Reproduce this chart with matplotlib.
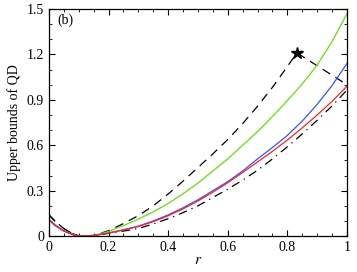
import matplotlib
matplotlib.use("Agg")
import matplotlib.pyplot as plt
from matplotlib.ticker import MultipleLocator

plt.rcParams['font.family'] = ['Liberation Serif', 'DejaVu Serif']
plt.rcParams['mathtext.fontset'] = 'stix'

# values
r = [0, 0.02, 0.05, 0.08, 0.10, 0.12, 0.15, 0.20, 0.25, 0.30, 0.35, 0.40, 0.45,
     0.50, 0.55, 0.60, 0.65, 0.70, 0.75, 0.80, 0.85, 0.90, 0.95, 1.0]
green = [0.11, 0.075, 0.035, 0.01, 0.002, 0.0, 0.004, 0.03, 0.07, 0.112, 0.16, 0.215, 0.28,
         0.35, 0.43, 0.51, 0.60, 0.69, 0.79, 0.895, 1.005, 1.13, 1.285, 1.47]
blue = [0.11, 0.075, 0.035, 0.01, 0.002, 0.0, 0.003, 0.02, 0.042, 0.066, 0.10, 0.14, 0.187,
        0.24, 0.30, 0.36, 0.43, 0.51, 0.585, 0.665, 0.76, 0.87, 0.995, 1.14]
red = [0.105, 0.07, 0.033, 0.009, 0.002, 0.0, 0.003, 0.02, 0.04, 0.063, 0.095, 0.134, 0.18,
       0.232, 0.29, 0.352, 0.42, 0.49, 0.56, 0.635, 0.715, 0.80, 0.89, 0.99]
dashdot = [0.14, 0.1, 0.05, 0.015, 0.003, 0.0, 0.003, 0.018, 0.033, 0.05, 0.08, 0.115, 0.155,
           0.20, 0.255, 0.31, 0.37, 0.435, 0.51, 0.59, 0.675, 0.765, 0.86, 0.965]
r_dash = [0, 0.02, 0.05, 0.08, 0.10, 0.12, 0.15, 0.20, 0.25, 0.30, 0.35, 0.40, 0.45,
          0.50, 0.55, 0.60, 0.65, 0.70, 0.75, 0.80, 0.832, 1.0]
dashed = [0.14, 0.1, 0.05, 0.015, 0.003, 0.0, 0.005, 0.035, 0.083, 0.135, 0.2, 0.278, 0.363,
          0.453, 0.543, 0.638, 0.743, 0.858, 0.983, 1.12, 1.21, 1.0]
star = (0.832, 1.21)

xticks = [0, 0.2, 0.4, 0.6, 0.8, 1.0]
xticklabels = ['0', '0.2', '0.4', '0.6', '0.8', '1']
yticks = [0, 0.3, 0.6, 0.9, 1.2, 1.5]
yticklabels = ['0', '0.3', '0.6', '0.9', '1.2', '1.5']

fig = plt.figure(figsize=(3.57, 2.72), dpi=100)
ax = fig.add_axes([0.137, 0.132, 0.835, 0.835])

ax.plot(r_dash, dashed, color='black', lw=0.9, dashes=(7, 5))
ax.plot(r, dashdot, color='black', lw=0.9, dashes=(7, 4, 1, 4))
ax.plot(r, green, color='#66dd11', lw=0.9)
ax.plot(r, blue, color='#3355ff', lw=0.9)
ax.plot(r, red, color='#ff2020', lw=0.9)
ax.plot([star[0]], [star[1]], marker='*', color='black', ms=9, ls='none')

ax.set_xlim(0, 1)
ax.set_ylim(0, 1.5)
ax.set_xticks(xticks)
ax.set_xticklabels(xticklabels)
ax.set_yticks(yticks)
ax.set_yticklabels(yticklabels)
ax.xaxis.set_minor_locator(MultipleLocator(0.05))
ax.yaxis.set_minor_locator(MultipleLocator(0.1))
ax.tick_params(which='both', direction='in', top=True, right=True, labelsize=10)
ax.tick_params(which='major', length=4, width=0.8)
ax.tick_params(which='minor', length=2, width=0.6)
for s in ax.spines.values():
    s.set_linewidth(0.9)

ax.set_xlabel('$r$', fontsize=11, labelpad=0)
ax.set_ylabel('Upper bounds of QD', fontsize=10, labelpad=4)
ax.text(0.03, 1.40, '(b)', fontsize=10)

fig.savefig('out.png', dpi=100)
